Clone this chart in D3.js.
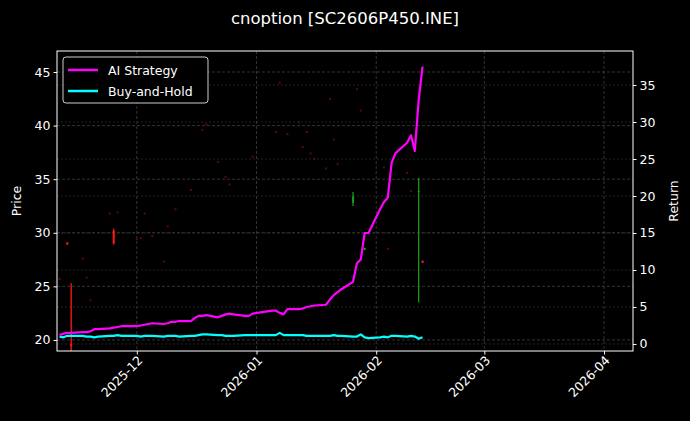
<!DOCTYPE html>
<html><head><meta charset="utf-8">
<script src="https://cdn.jsdelivr.net/npm/d3@7"></script>
<style>body{margin:0;background:#000}svg{display:block}text{font-family:"DejaVu Sans",sans-serif;fill:#fff}</style>
</head><body>
<svg id="c" width="690" height="421"></svg>
<script>
const dates = ["2025-11-11","2025-11-12","2025-11-13","2025-11-14","2025-11-17","2025-11-18","2025-11-19","2025-11-20","2025-11-21","2025-11-24","2025-11-25","2025-11-26","2025-11-27","2025-11-28",
"2025-12-01","2025-12-02","2025-12-03","2025-12-04","2025-12-05","2025-12-08","2025-12-09","2025-12-10","2025-12-11","2025-12-12","2025-12-15","2025-12-16","2025-12-17","2025-12-18","2025-12-19","2025-12-22","2025-12-23","2025-12-24","2025-12-25","2025-12-26","2025-12-29","2025-12-30","2025-12-31",
"2026-01-05","2026-01-06","2026-01-07","2026-01-08","2026-01-09","2026-01-12","2026-01-13","2026-01-14","2026-01-15","2026-01-16","2026-01-19","2026-01-20","2026-01-21","2026-01-22","2026-01-23","2026-01-26","2026-01-27","2026-01-28","2026-01-29","2026-01-30",
"2026-02-02","2026-02-03","2026-02-04","2026-02-05","2026-02-06","2026-02-09","2026-02-10","2026-02-11","2026-02-12","2026-02-13"];
const aiStrategy = [1.2,1.4,1.5,1.5,1.6,1.6,1.7,2.0,2.0,2.1,2.2,2.3,2.4,2.4,
2.4,2.5,2.6,2.7,2.8,2.7,2.8,3.0,3.0,3.1,3.1,3.5,3.8,3.8,3.9,3.6,3.8,4.0,4.1,4.0,3.8,3.8,4.1,
4.5,4.5,4.2,4.0,4.7,4.7,4.8,5.0,5.1,5.2,5.3,6.0,6.6,7.0,7.4,8.4,10.9,11.4,15.0,15.0,
18.2,19.2,19.8,24.5,25.8,27.2,28.2,26.1,33.0,37.5];
const buyHold = [1.0,0.9,1.1,1.1,1.1,1.0,1.0,0.9,1.0,1.1,1.1,1.2,1.1,1.1,
1.1,1.0,1.1,1.1,1.1,1.0,1.1,1.1,1.1,1.0,1.1,1.1,1.2,1.3,1.3,1.2,1.2,1.1,1.1,1.1,1.2,1.2,1.2,
1.2,1.2,1.5,1.2,1.2,1.2,1.2,1.1,1.1,1.1,1.1,1.1,1.2,1.1,1.1,1.0,1.0,1.3,0.9,0.8,
0.9,1.0,0.9,1.1,1.1,1.0,1.1,1.0,0.7,0.9];
const cDates = ["2025-11-11","2025-11-13","2025-11-14","2025-11-17","2025-11-18","2025-11-19","2025-11-24","2025-11-25","2025-11-26","2025-12-01","2025-12-02","2025-12-03","2025-12-05","2025-12-08","2025-12-09","2025-12-11","2025-12-15","2025-12-18","2025-12-19","2025-12-22","2025-12-24","2025-12-25","2025-12-31","2026-01-06","2026-01-07","2026-01-09","2026-01-12","2026-01-13","2026-01-14","2026-01-15","2026-01-16","2026-01-19","2026-01-20","2026-01-21","2026-01-22","2026-01-26","2026-01-27","2026-01-28","2026-01-29","2026-02-03","2026-02-04","2026-02-09","2026-02-10","2026-02-12","2026-02-13"];
const cOpen  = [25.7,29.1,19.6,27.6,25.8,23.7,31.8,30.2,31.9,29.4,29.5,31.8,29.7,27.3,30.6,32.2,34.0,39.6,40.1,36.6,35.2,34.5,37.1,39.4,44.0,39.2,40.3,38.0,39.4,37.4,36.9,36.0,42.5,38.7,36.4,32.8,43.4,41.4,28.4,36.1,28.5,35.6,33.9,33.8,27.4];
const cHigh  = [25.7,29.1,25.3,27.6,25.8,23.7,31.8,30.4,31.9,29.4,29.5,31.8,29.7,27.3,30.6,32.2,34.0,39.6,40.1,36.6,35.2,34.5,37.1,39.4,44.0,39.2,40.3,38.0,39.4,37.4,36.9,36.0,42.5,38.7,36.4,33.8,43.4,41.4,28.6,36.1,28.5,35.6,33.9,35.1,27.4];
const cLow   = [25.7,28.9,18.5,27.6,25.8,23.7,31.8,28.9,31.9,29.4,29.5,31.8,29.7,27.3,30.6,32.2,34.0,39.6,40.1,36.6,35.2,34.5,37.1,39.4,44.0,39.2,40.3,38.0,39.4,37.4,36.9,36.0,42.5,38.7,36.4,32.5,43.4,41.4,28.4,36.1,28.5,35.6,33.9,23.5,27.2];
const cClose = [25.7,28.9,19.4,27.6,25.8,23.7,31.8,29.0,31.9,29.4,29.5,31.8,29.7,27.3,30.6,32.2,34.0,39.6,40.1,36.6,35.2,34.5,37.1,39.4,44.0,39.2,40.3,38.0,39.4,37.4,36.9,36.0,42.5,38.7,36.4,33.4,43.4,41.4,28.6,36.1,28.5,35.6,33.9,33.9,27.2];
const priceTicks = [20,25,30,35,40,45];
const returnTicks = [0,5,10,15,20,25,30,35];
const xTicks = ["2025-12-01","2026-01-01","2026-02-01","2026-03-01","2026-04-01"];

const p = d3.timeParse("%Y-%m-%d");
const svg = d3.select("#c");
svg.append("rect").attr("width",690).attr("height",421).attr("fill","#000");
const L=57,R=633,T=51,B=351;
const x = d3.scaleTime().domain([new Date(2025,10,10,8),new Date(2026,3,8,12)]).range([L,R]);
const yP = d3.scaleLinear().domain([18.97,46.96]).range([B,T]);
const yR = d3.scaleLinear().domain([-0.95,39.6]).range([B,T]);

const g = svg.append("g");
g.selectAll(".gy").data(priceTicks).join("line").attr("x1",L).attr("x2",R)
 .attr("y1",d=>yP(d)).attr("y2",d=>yP(d)).attr("stroke","#555").attr("stroke-width",0.6).attr("stroke-dasharray","3,2");
g.selectAll(".gr").data(returnTicks).join("line").attr("x1",L).attr("x2",R)
 .attr("y1",d=>yR(d)).attr("y2",d=>yR(d)).attr("stroke","#444").attr("stroke-width",0.5).attr("stroke-dasharray","2,2");
g.selectAll(".gx").data(xTicks).join("line").attr("y1",T).attr("y2",B)
 .attr("x1",d=>x(p(d))).attr("x2",d=>x(p(d))).attr("stroke","#555").attr("stroke-width",0.6).attr("stroke-dasharray","3,2");

const plot = svg.append("g");
plot.append("clipPath").attr("id","clp").append("rect").attr("x",L).attr("y",T).attr("width",R-L).attr("height",B-T);
const cg = plot.append("g").attr("clip-path","url(#clp)");
cDates.forEach((d,i)=>{
  const up = cClose[i]>cOpen[i];
  const tiny = cHigh[i]-cLow[i] < 0.05;
  const cx = x(p(d));
  if(tiny){
    cg.append("rect").attr("x",cx-1).attr("y",yP(cHigh[i])-1).attr("width",2).attr("height",2).attr("fill","#5a0a0a");
  } else {
    const col = up ? "#1a9a1a" : "#ff1a1a";
    cg.append("line").attr("x1",cx).attr("x2",cx).attr("y1",yP(cHigh[i])).attr("y2",yP(cLow[i]))
      .attr("stroke",col).attr("stroke-width",1.3);
    const y0=yP(Math.max(cOpen[i],cClose[i])), y1=yP(Math.min(cOpen[i],cClose[i]));
    cg.append("rect").attr("x",cx-1).attr("y",y0).attr("width",2).attr("height",Math.max(1,y1-y0)).attr("fill",col);
  }
});

const line = d3.line().x((d,i)=>x(p(dates[i]))).y(d=>yR(d));
cg.append("path").datum(buyHold).attr("d",line).attr("fill","none").attr("stroke","#00ffff").attr("stroke-width",2.2).attr("stroke-linejoin","round");
cg.append("path").datum(aiStrategy).attr("d",line).attr("fill","none").attr("stroke","#ff00ff").attr("stroke-width",2.2).attr("stroke-linejoin","round");

svg.append("rect").attr("x",L).attr("y",T).attr("width",R-L).attr("height",B-T).attr("fill","none").attr("stroke","#fff").attr("stroke-width",1);

const ax = svg.append("g").attr("transform",`translate(${L},0)`).call(d3.axisLeft(yP).tickValues(priceTicks).tickSize(3.5).tickPadding(3));
const ar = svg.append("g").attr("transform",`translate(${R},0)`).call(d3.axisRight(yR).tickValues(returnTicks).tickSize(3.5).tickPadding(3));
const axb = svg.append("g").attr("transform",`translate(0,${B})`).call(d3.axisBottom(x).tickValues(xTicks.map(p)).tickFormat(d3.timeFormat("%Y-%m")).tickSize(3.5));
[ax,ar,axb].forEach(a=>{a.select(".domain").remove();a.selectAll("line").attr("stroke","#fff");a.selectAll("text").attr("fill","#fff").style("font-size","12.5px").style("font-family","DejaVu Sans");});
axb.selectAll("text").attr("text-anchor","end").attr("dx",null).attr("dy",null)
  .attr("transform","translate(3,7) rotate(-45)").attr("y",0).attr("x",0).attr("dominant-baseline","central");

svg.append("text").attr("x",345).attr("y",24).attr("text-anchor","middle").style("font-size","16.5px").text("cnoption [SC2606P450.INE]");
svg.append("text").attr("transform",`translate(21,${(T+B)/2}) rotate(-90)`).attr("text-anchor","middle").style("font-size","12.5px").text("Price");
svg.append("text").attr("transform",`translate(678,${(T+B)/2}) rotate(-90)`).attr("text-anchor","middle").style("font-size","12.5px").text("Return");

const lg = svg.append("g");
lg.append("rect").attr("x",63).attr("y",57).attr("width",145).attr("height",46).attr("rx",3).attr("fill","#000").attr("stroke","#ccc").attr("stroke-width",1);
[["AI Strategy","#ff00ff"],["Buy-and-Hold","#00ffff"]].forEach((d,i)=>{
  const yy=70+i*21;
  lg.append("line").attr("x1",68).attr("x2",98).attr("y1",yy).attr("y2",yy).attr("stroke",d[1]).attr("stroke-width",2.5);
  lg.append("text").attr("x",108).attr("y",yy+4.5).style("font-size","12.5px").text(d[0]);
});
</script>
</body></html>
